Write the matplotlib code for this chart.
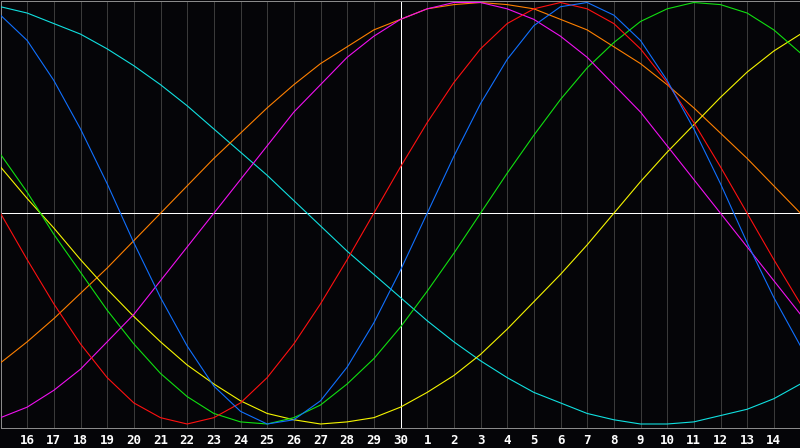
import matplotlib.pyplot as plt

# day labels along the bottom (first and last position carry no label)
days = ["", "16", "17", "18", "19", "20", "21", "22", "23", "24", "25", "26", "27",
        "28", "29", "30", "1", "2", "3", "4", "5", "6", "7", "8", "9", "10", "11",
        "12", "13", "14", ""]
today = 15  # index of the white vertical line

# curve values, one per day position (-1 .. 1)
red = [0, -0.22, -0.43, -0.62, -0.78, -0.90, -0.97, -1.00, -0.97, -0.90, -0.78,
       -0.62, -0.43, -0.22, 0, 0.22, 0.43, 0.62, 0.78, 0.90, 0.97, 1.00, 0.97,
       0.90, 0.78, 0.62, 0.43, 0.22, 0, -0.22, -0.43]
blue = [0.94, 0.82, 0.63, 0.40, 0.14, -0.14, -0.40, -0.63, -0.82, -0.94, -1.00,
        -0.98, -0.89, -0.73, -0.52, -0.27, 0, 0.27, 0.52, 0.73, 0.89, 0.98, 1.00,
        0.94, 0.82, 0.63, 0.40, 0.14, -0.14, -0.40, -0.63]
green = [0.28, 0.10, -0.10, -0.28, -0.46, -0.62, -0.76, -0.87, -0.95, -0.99, -1.00,
         -0.97, -0.91, -0.81, -0.69, -0.54, -0.37, -0.19, 0, 0.19, 0.37, 0.54, 0.69,
         0.81, 0.91, 0.97, 1.00, 0.99, 0.95, 0.87, 0.76]
magenta = [-0.97, -0.92, -0.84, -0.74, -0.61, -0.48, -0.32, -0.16, 0, 0.16, 0.32,
           0.48, 0.61, 0.74, 0.84, 0.92, 0.97, 1.00, 1.00, 0.97, 0.92, 0.84, 0.74,
           0.61, 0.48, 0.32, 0.16, 0, -0.16, -0.32, -0.48]
yellow = [0.22, 0.07, -0.07, -0.22, -0.36, -0.49, -0.61, -0.72, -0.81, -0.89, -0.95,
          -0.98, -1.00, -0.99, -0.97, -0.92, -0.85, -0.77, -0.67, -0.55, -0.42,
          -0.29, -0.15, 0, 0.15, 0.29, 0.42, 0.55, 0.67, 0.77, 0.85]
orange = [-0.71, -0.61, -0.50, -0.38, -0.26, -0.13, 0, 0.13, 0.26, 0.38, 0.50, 0.61,
          0.71, 0.79, 0.87, 0.92, 0.97, 0.99, 1.00, 0.99, 0.97, 0.92, 0.87, 0.79,
          0.71, 0.61, 0.50, 0.38, 0.26, 0.13, 0]
cyan = [0.98, 0.95, 0.90, 0.85, 0.78, 0.70, 0.61, 0.51, 0.40, 0.29, 0.18, 0.06,
        -0.06, -0.18, -0.29, -0.40, -0.51, -0.61, -0.70, -0.78, -0.85, -0.90, -0.95,
        -0.98, -1.00, -1.00, -0.99, -0.96, -0.93, -0.88, -0.81]

bg = "#050508"
px = 0.72  # one pixel at 100 dpi, in points

fig = plt.figure(figsize=(8, 4.48), dpi=100, facecolor=bg)
ax = fig.add_axes([0.5 / 800, 20 / 448, 1, 427.5 / 448], facecolor=bg)

x = list(range(len(days)))

for i in x[1:-1]:
    if i != today:
        ax.axvline(i, color="#3a3a3a", lw=px, antialiased=False, zorder=1)
ax.axvline(today, color="white", lw=px, antialiased=False, zorder=2)
ax.axhline(0, color="white", lw=px, antialiased=False, zorder=2)

series = [
    (cyan, "#10e0e0"),
    (orange, "#ff8000"),
    (yellow, "#f5f500"),
    (green, "#10e010"),
    (magenta, "#f010f0"),
    (red, "#ff1010"),
    (blue, "#1070ff"),
]
for vals, col in series:
    ax.plot(x, vals, color=col, lw=0.8, antialiased=True, zorder=3)

ax.set_xlim(0, 30)
ax.set_ylim(-1.019, 1.0095)
ax.set_xticks(x)
ax.set_xticklabels(days, color="white", fontsize=9, fontweight="bold",
                   family="DejaVu Sans Mono")
ax.set_yticks([])
ax.tick_params(axis="x", length=0, pad=4)

for side in ["top", "left", "bottom"]:
    ax.spines[side].set_color("#8a8a8a")
    ax.spines[side].set_linewidth(px)
    ax.spines[side].set_antialiased(False)
ax.spines["right"].set_visible(False)

fig.savefig("out.png", dpi=100, facecolor=bg)
